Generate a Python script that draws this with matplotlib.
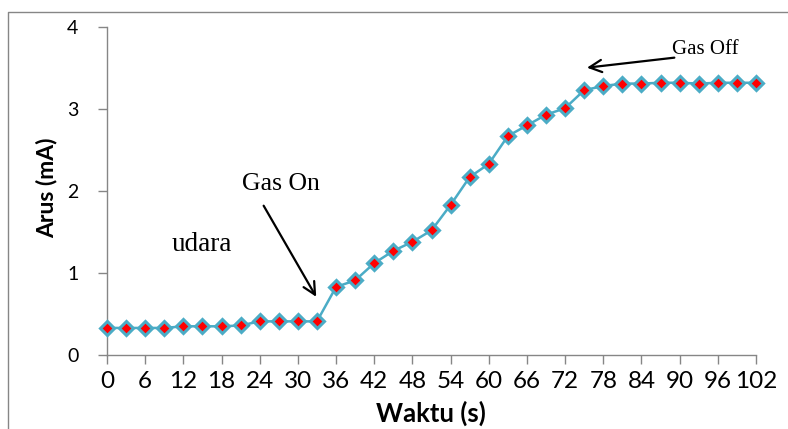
import matplotlib
matplotlib.use("Agg")
import matplotlib.pyplot as plt
from matplotlib.lines import Line2D

# data
waktu = [0, 3, 6, 9, 12, 15, 18, 21, 24, 27, 30, 33, 36, 39, 42, 45, 48, 51,
         54, 57, 60, 63, 66, 69, 72, 75, 78, 81, 84, 87, 90, 93, 96, 99, 102]
arus = [0.33, 0.33, 0.33, 0.33, 0.35, 0.35, 0.35, 0.36, 0.41, 0.41, 0.41, 0.41,
        0.83, 0.91, 1.12, 1.27, 1.38, 1.52, 1.83, 2.17, 2.33, 2.67, 2.80, 2.93,
        3.01, 3.23, 3.28, 3.31, 3.31, 3.32, 3.32, 3.31, 3.32, 3.32, 3.32]
xticks = list(range(0, 103, 6))
yticks = [0, 1, 2, 3, 4]

sans = "Lato"
serif = "Liberation Serif"
abu = "#868686"

fig = plt.figure(figsize=(7.88, 4.29), dpi=100)
ax = fig.add_axes([107 / 788, 1 - 355 / 429, (756 - 107) / 788, (355 - 27) / 429])

ax.plot(waktu, arus, color="#4BACC6", lw=1.8, marker="D", markersize=7.5,
        markerfacecolor="red", markeredgecolor="#4BACC6", markeredgewidth=2.2,
        clip_on=False, zorder=3)

ax.set_xlim(0, 102)
ax.set_ylim(0, 4)
ax.set_xticks(xticks)
ax.set_yticks(yticks)
ax.set_xticklabels([str(t) for t in xticks], fontfamily=sans, fontsize=17.5)
ax.set_yticklabels([str(t) for t in yticks], fontfamily=sans, fontsize=14)
ax.tick_params(axis="both", direction="out", length=6.5, color=abu, width=1)
ax.tick_params(axis="x", pad=5)
ax.tick_params(axis="y", pad=14)

for s in ["top", "right"]:
    ax.spines[s].set_visible(False)
for s in ["left", "bottom"]:
    ax.spines[s].set_color(abu)
    ax.spines[s].set_linewidth(1)

fig.text(431 / 788, 1 - 413 / 429, "Waktu (s)", fontfamily=sans, fontweight="bold",
         fontsize=18.5, ha="center", va="center")
fig.text(47 / 788, 1 - 188 / 429, "Arus (mA)", fontfamily=sans, fontweight="bold",
         fontsize=16.5, ha="center", va="center", rotation=90)

# annotations
ax.text(27.3, 2.09, "Gas On", fontfamily=serif, fontsize=18.5, ha="center", va="center")
ax.text(14.9, 1.35, "udara", fontfamily=serif, fontsize=19.5, ha="center", va="center")
ax.text(94.0, 3.73, "Gas Off", fontfamily=serif, fontsize=15, ha="center", va="center")
ax.annotate("", xy=(33.1, 0.68), xytext=(24.4, 1.85),
            arrowprops=dict(arrowstyle="->", color="black", lw=1.6,
                            mutation_scale=22))
ax.annotate("", xy=(75.0, 3.50), xytext=(89.6, 3.63),
            arrowprops=dict(arrowstyle="->", color="black", lw=1.6,
                            mutation_scale=22))

# chart frame (cropped on right and bottom)
fig.add_artist(Line2D([8 / 788, 8 / 788, 1.0], [0.0, 1 - 12 / 429, 1 - 12 / 429],
                      transform=fig.transFigure, color=abu, lw=1))

fig.savefig("out.png", dpi=100)
